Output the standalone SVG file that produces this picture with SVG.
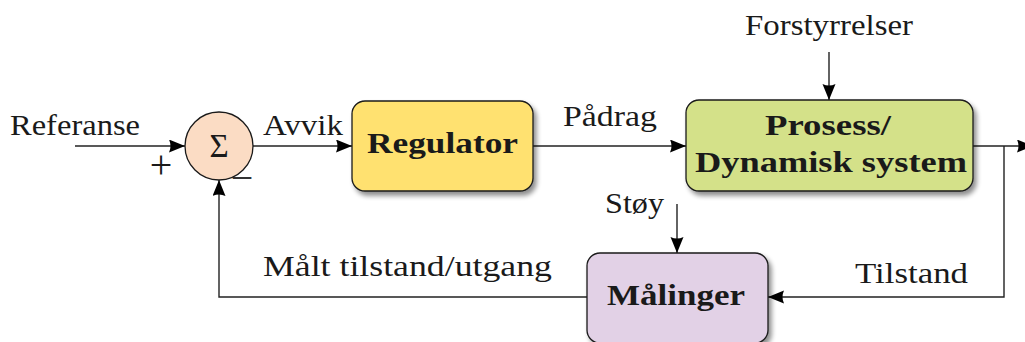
<svg xmlns="http://www.w3.org/2000/svg" width="1025" height="342" viewBox="0 0 1025 342">
<style>
.t{fill:#1a1a1a}
.box{stroke:#1a1a1a;stroke-width:1.3}
.c{fill:none;stroke:#222;stroke-width:1.4}
</style>
<defs>
<marker id="ah" markerUnits="userSpaceOnUse" markerWidth="18" markerHeight="14" refX="16" refY="6.5" orient="auto">
<path d="M0,0 L16,6.5 L0,13 Q3,6.5 0,0 z" fill="#000"/>
</marker>
<filter id="sh" x="-10%" y="-10%" width="130%" height="140%">
<feGaussianBlur in="SourceAlpha" stdDeviation="2.5"/>
<feOffset dx="3" dy="4" result="o"/>
<feComponentTransfer><feFuncA type="linear" slope="0.45"/></feComponentTransfer>
<feMerge><feMergeNode/><feMergeNode in="SourceGraphic"/></feMerge>
</filter>
</defs>
<rect width="1025" height="342" fill="#fff"/>
<g id="connectors">
<line class="c" x1="75" y1="146" x2="185" y2="146" marker-end="url(#ah)"/>
<line class="c" x1="253" y1="146" x2="352" y2="146" marker-end="url(#ah)"/>
<line class="c" x1="533" y1="146" x2="686" y2="146" marker-end="url(#ah)"/>
<line class="c" x1="829" y1="52" x2="829" y2="100" marker-end="url(#ah)"/>
<line class="c" x1="973" y1="146" x2="1033" y2="146" marker-end="url(#ah)"/>
<polyline class="c" points="1004,146 1004,297 768,297" marker-end="url(#ah)"/>
<line class="c" x1="677" y1="204" x2="677" y2="253" marker-end="url(#ah)"/>
<polyline class="c" points="587,297 219,297 219,180" marker-end="url(#ah)"/>
<g class="t" font-family="Liberation Serif, serif" font-size="29">
<text x="10" y="135" textLength="130" lengthAdjust="spacingAndGlyphs">Referanse</text>
<text x="263" y="135" textLength="80" lengthAdjust="spacingAndGlyphs">Avvik</text>
<text x="563" y="126" textLength="94" lengthAdjust="spacingAndGlyphs">Pådrag</text>
<text x="745" y="35" textLength="168" lengthAdjust="spacingAndGlyphs">Forstyrrelser</text>
<text x="605" y="213" textLength="59" lengthAdjust="spacingAndGlyphs">Støy</text>
<text x="855" y="283" textLength="113" lengthAdjust="spacingAndGlyphs">Tilstand</text>
<text x="263" y="276" textLength="289" lengthAdjust="spacingAndGlyphs">Målt tilstand/utgang</text>
<text x="161" y="178" text-anchor="middle" font-size="40">+</text>
<text x="242" y="191" text-anchor="middle" font-size="40" fill="#333">−</text>
</g>
</g>
<g id="sum">
<circle cx="219" cy="146" r="34" fill="#FBDCC4" stroke="#1a1a1a" stroke-width="1.3"/>
<text class="t" x="219" y="157" text-anchor="middle" font-family="Liberation Serif, serif" font-size="33">Σ</text>
</g>
<g id="regulator">
<rect class="box" x="352" y="101" width="181" height="90" rx="13" fill="#FFE170" filter="url(#sh)"/>
<text class="t" x="367" y="153" font-family="Liberation Serif, serif" font-size="30" font-weight="bold" textLength="151" lengthAdjust="spacingAndGlyphs">Regulator</text>
</g>
<g id="prosess">
<rect class="box" x="686" y="100" width="287" height="91" rx="13" fill="#D4E189" filter="url(#sh)"/>
<g class="t" font-family="Liberation Serif, serif" font-size="30" font-weight="bold">
<text x="765" y="135" textLength="126" lengthAdjust="spacingAndGlyphs">Prosess/</text>
<text x="695" y="172" textLength="272" lengthAdjust="spacingAndGlyphs">Dynamisk system</text>
</g>
</g>
<g id="malinger">
<rect class="box" x="587" y="253" width="181" height="90" rx="13" fill="#E2D1E6" filter="url(#sh)"/>
<text class="t" x="607" y="305" font-family="Liberation Serif, serif" font-size="30" font-weight="bold" textLength="138" lengthAdjust="spacingAndGlyphs">Målinger</text>
</g>
</svg>
